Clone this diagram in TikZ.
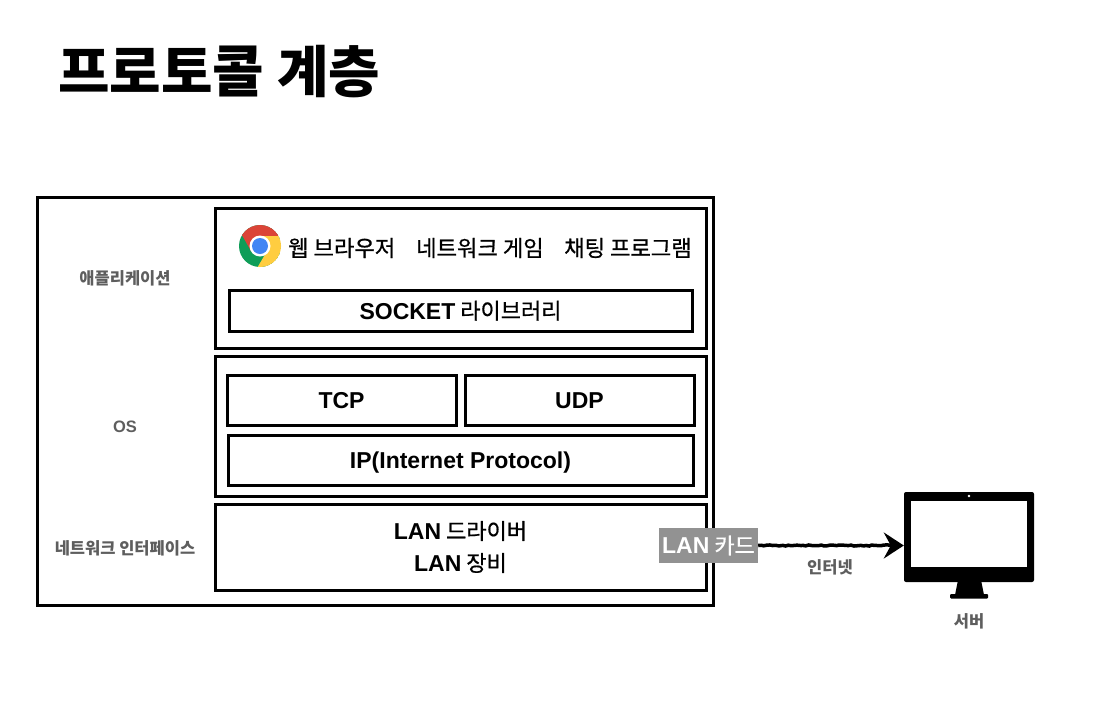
\documentclass[tikz,border=0pt]{standalone}
\usepackage{fontspec}
\setmainfont{Noto Sans CJK KR}
\newfontfamily\krmedium[FakeBold=0.7]{Noto Sans CJK KR}
\newfontfamily\latinfont{Liberation Sans}
\usepackage{xcolor}
\usetikzlibrary{arrows.meta,calc,positioning,decorations.pathmorphing}
\definecolor{labelgray}{HTML}{5E5E5E}
\definecolor{cardgray}{HTML}{929292}
\definecolor{chromered}{HTML}{DB4437}
\definecolor{chromegreen}{HTML}{0F9D58}
\definecolor{chromeyellow}{HTML}{FFCD40}
\definecolor{chromeblue}{HTML}{4285F4}
\newcommand{\lat}[1]{{\latinfont\bfseries\fontsize{23}{27}\selectfont #1}}
\newcommand{\latsmall}[1]{{\latinfont\bfseries #1}}

\begin{document}
\begin{tikzpicture}[x=1pt, y=-1pt,
  layerbox/.style={draw=black, line width=3pt, fill=white, inner sep=0pt, outer sep=0pt},
  protobox/.style={layerbox, font=\krmedium\fontsize{22}{27}\selectfont, text height=21pt, text depth=4pt},
  sidelabel/.style={font=\fontsize{16.5}{19}\selectfont\bfseries, text=labelgray, inner sep=0pt},
  apptext/.style={font=\krmedium\fontsize{22.2}{26}\selectfont, inner sep=0pt},
  arrow/.style={-{Stealth[length=20pt, width=26pt, inset=7pt]}, line width=3.5pt, draw=black}
]
\useasboundingbox (0,0) rectangle (1114,710);
\node[font=\fontsize{56}{66}\selectfont\bfseries, inner sep=0pt, anchor=west] (title) at (58,72) {프로토콜 계층};

% layers
\node[layerbox, minimum width=676pt, minimum height=408pt] (host) at (375,401) {};
\node[layerbox, minimum width=491pt, minimum height=140pt] (appbox) at (460.5,278) {};
\node[layerbox, minimum width=491pt, minimum height=140pt] (osbox) at (460.5,426) {};
\node[layerbox, minimum width=491pt, minimum height=86pt] (lanbox) at (460.5,547) {};

\node[protobox, minimum width=463pt, minimum height=41pt] (socket) at (460.5,310.5) {\lat{SOCKET} 라이브러리};
\node[protobox, minimum width=229pt, minimum height=50pt] (tcp) at (341.5,400) {\lat{TCP}};
\node[protobox, minimum width=229pt, minimum height=50pt] (udp) at (579.5,400) {\lat{UDP}};
\node[protobox, minimum width=465pt, minimum height=50pt] (ip) at (460.5,460) {\lat{IP(Internet Protocol)}};

% applications
\node[apptext, anchor=west] (browser) at (288,248) {웹 브라우저};
\node[apptext, anchor=west] (game) at (416,248) {네트워크 게임};
\node[apptext, anchor=west] (chat) at (564,248) {채팅 프로그램};

% chrome icon
\begin{scope}
\clip (260,246) circle (21pt);
\fill[chromegreen] (260,246) circle (21pt);
\fill[chromered] (251,251) -- (234,221) -- (234,215) -- (290,215) -- (290,236) -- (260,236) -- cycle;
\fill[chromeyellow] (260,246) -- (260,236) -- (290,236) -- (290,275) -- (253,275) -- (270,246) -- cycle;
\end{scope}
\fill[white] (260,246) circle (10.5pt);
\fill[chromeblue] (260,246) circle (8pt);

\node[font=\krmedium\fontsize{22}{32}\selectfont, align=center, inner sep=0pt] (landrv) at (460.5,547) {\lat{LAN} 드라이버\\\lat{LAN} 장비};
\node[fill=cardgray, text=white, font=\krmedium\fontsize{22}{27}\selectfont, minimum width=99pt, minimum height=35pt, inner sep=0pt] (lancard) at (708.5,545.5) {\lat{LAN} 카드};

% left labels
\node[sidelabel] (applabel) at (125,278) {애플리케이션};
\node[sidelabel] (oslabel) at (125,427) {\latsmall{OS}};
\node[sidelabel] (niclabel) at (125,548) {네트워크 인터페이스};

% server
\node[fill=black, rounded corners=2pt, minimum width=130pt, minimum height=90pt, inner sep=0pt] (server) at (969,537) {};
\node[fill=white, minimum width=116pt, minimum height=66pt, inner sep=0pt] (screen) at (969,534) {};
\fill[white] (969,496) circle (1.4pt);
\fill[black] (958,580) -- (981,580) -- (984,595) -- (955,595) -- cycle;
\fill[black, rounded corners=1pt] (950,594) rectangle (988,598.5);
\node[sidelabel, below=31pt of server] (serverlabel) {서버};

\draw[arrow, decorate, decoration={random steps, segment length=3pt, amplitude=0.6pt, post=lineto, post length=10pt}] (lancard.east) -- (lancard.east -| server.west);
\node[sidelabel] (netlabel) at (830,567) {인터넷};
\end{tikzpicture}
\end{document}
